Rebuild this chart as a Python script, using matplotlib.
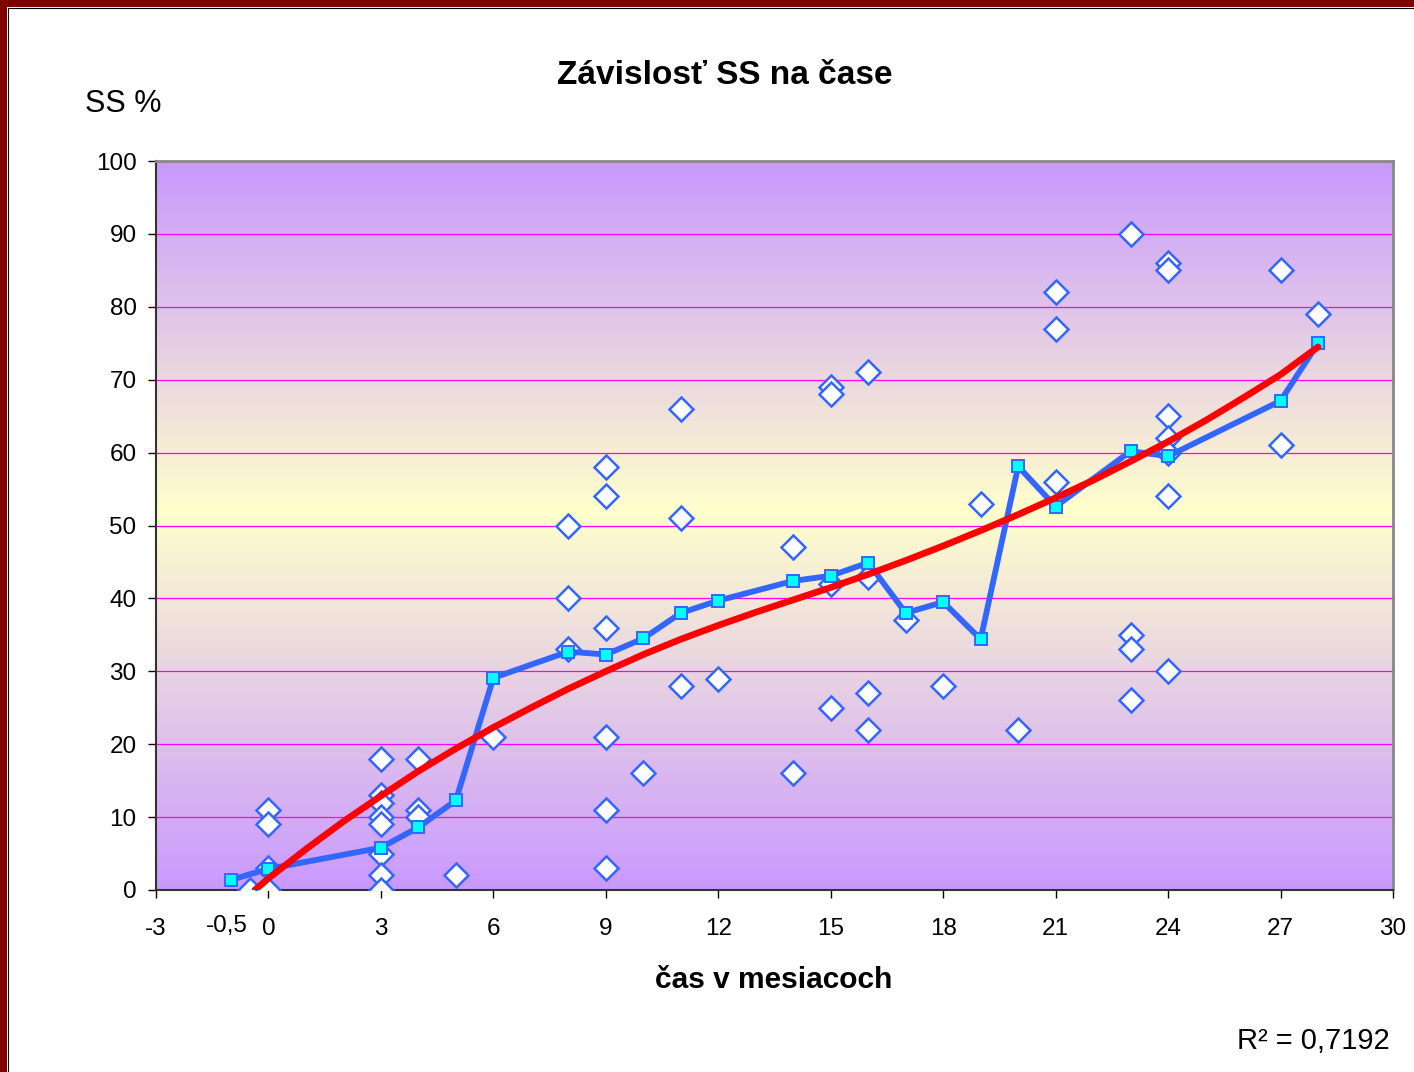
import numpy as np
import matplotlib
matplotlib.use("Agg")
import matplotlib.pyplot as plt
from matplotlib.colors import LinearSegmentedColormap
from matplotlib.patches import Rectangle

plt.rcParams['font.family'] = ['Liberation Sans', 'DejaVu Sans']
plt.rcParams['axes.unicode_minus'] = False

# raw measurements (diamonds)
month = [-0.5, 0, 0, 0, 0, 3, 3, 3, 3, 3, 3, 3, 3, 4, 4, 4, 5, 6, 8, 8, 8,
         9, 9, 9, 9, 9, 9, 10, 11, 11, 11, 12, 14, 14, 15, 15, 15, 15,
         16, 16, 16, 16, 17, 18, 19, 20, 21, 21, 21, 23, 23, 23, 23,
         24, 24, 24, 24, 24, 24, 24, 27, 27, 28]
ss = [0, 11, 9, 3, 0, 18, 13, 12, 10, 9, 5, 2, 0, 18, 11, 10, 2, 21, 50, 40, 33,
      58, 54, 36, 21, 11, 3, 16, 66, 51, 28, 29, 47, 16, 69, 68, 42, 25,
      71, 43, 27, 22, 37, 28, 53, 22, 82, 77, 56, 90, 35, 33, 26,
      86, 85, 65, 62, 60, 54, 30, 85, 61, 79]

# averages (blue line with squares)
avg_month = [-1, 0, 3, 4, 5, 6, 8, 9, 10, 11, 12, 14, 15, 16, 17, 18, 19, 20, 21, 23, 24, 27, 28]
avg_ss = [1.4, 2.9, 5.8, 8.6, 12.3, 29.1, 32.7, 32.3, 34.5, 38.0, 39.7, 42.4, 43.1, 44.9,
          38.0, 39.5, 34.4, 58.1, 52.6, 60.2, 59.5, 67.1, 75.0]

# trend line
trend_x = [-0.36, 0, 1, 2, 3, 4, 5, 6, 7, 8, 9, 10, 11, 12, 13, 14, 15, 16, 17, 18,
           19, 20, 21, 22, 23, 24, 25, 26, 27, 28]
trend_y = [0, 1.6, 5.6, 9.4, 12.9, 16.3, 19.4, 22.3, 25.0, 27.6, 30.0, 32.3, 34.4, 36.3,
           38.1, 39.8, 41.5, 43.3, 45.2, 47.2, 49.3, 51.5, 53.8, 56.2, 58.8, 61.5, 64.4,
           67.5, 70.7, 74.5]

xticks = [-3, 0, 3, 6, 9, 12, 15, 18, 21, 24, 27, 30]
yticks = [0, 10, 20, 30, 40, 50, 60, 70, 80, 90, 100]

W, H = 1414, 1072
fig = plt.figure(figsize=(W / 100, H / 100), dpi=100)
fig.patch.set_facecolor('white')

ax = fig.add_axes([156 / W, 1 - 890 / H, (1393 - 156) / W, (890 - 161) / H])

# gradient plot area
cmap = LinearSegmentedColormap.from_list('bg', [(0, '#C999FF'), (0.52, '#FFFFCC'), (1, '#C999FF')])
grad = np.linspace(0, 1, 256).reshape(-1, 1)
ax.imshow(grad, extent=[-3, 30, 0, 100], aspect='auto', origin='lower', cmap=cmap, zorder=0)

for v in yticks[1:-1]:
    ax.axhline(v, color='#FF00FF', lw=0.9, zorder=1)

ax.plot(month, ss, linestyle='none', marker='D', ms=12, mfc='white', mec='#3366FF',
        mew=1.8, zorder=3)
ax.plot(avg_month, avg_ss, color='#3366FF', lw=4.2, marker='s', ms=9, mfc='#00FFFF',
        mec='#3366FF', mew=1.4, zorder=4)
ax.plot(trend_x, trend_y, color='#FF0000', lw=4.8, solid_capstyle='round', zorder=5)

ax.set_xlim(-3, 30)
ax.set_ylim(0, 100)
ax.set_xticks(xticks)
ax.set_yticks(yticks)
ax.tick_params(axis='x', direction='out', length=6, width=1, labelsize=17.5, pad=14)
ax.tick_params(axis='y', direction='out', length=6, width=1, labelsize=17.5, pad=8)
ax.text(-1.1, -0.05, '-0,5', transform=ax.get_xaxis_transform(), ha='center', va='center',
        fontsize=17.5)

for s in ['left', 'bottom']:
    ax.spines[s].set_color('#333333')
    ax.spines[s].set_linewidth(1.5)
for s in ['top', 'right']:
    ax.spines[s].set_color('#888888')
    ax.spines[s].set_linewidth(2)

fig.text(725 / W, 1 - 75 / H, 'Závislosť SS na čase', ha='center', va='center',
         fontsize=24, fontweight='bold')
fig.text(85 / W, 1 - 104 / H, 'SS %', ha='left', va='center', fontsize=22)
fig.text(774 / W, 1 - 980 / H, 'čas v mesiacoch', ha='center', va='center',
         fontsize=21.5, fontweight='bold')
fig.text(1390 / W, 1 - 1041 / H, 'R² = 0,7192', ha='right', va='center', fontsize=21)

# dark red frame on left and top edge
fig.patches.append(Rectangle((0, 0), 7 / W, 1, transform=fig.transFigure,
                             facecolor='#800000', edgecolor='none', zorder=10))
fig.patches.append(Rectangle((0, 1 - 7 / H), 1, 7 / H, transform=fig.transFigure,
                             facecolor='#800000', edgecolor='none', zorder=10))
fig.add_artist(plt.Line2D([7.5 / W, 7.5 / W], [0, 1 - 7.5 / H], color='black', lw=0.8,
                          transform=fig.transFigure))
fig.add_artist(plt.Line2D([7.5 / W, 1], [1 - 7.5 / H, 1 - 7.5 / H], color='black', lw=0.8,
                          transform=fig.transFigure))

fig.savefig('out.png', dpi=100)
